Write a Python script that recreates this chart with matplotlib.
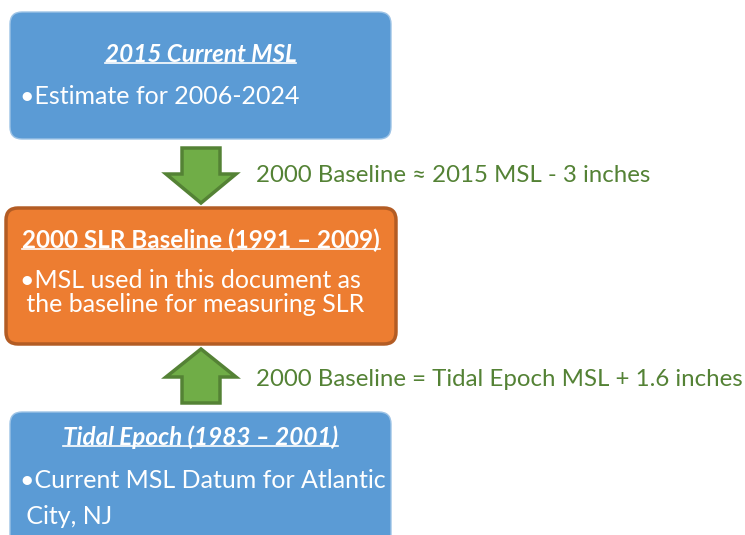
import matplotlib.pyplot as plt
from matplotlib.patches import FancyBboxPatch, Polygon

plt.rcParams['font.family'] = ['Lato', 'DejaVu Sans']

# box contents
titles = ['2015 Current MSL', '2000 SLR Baseline (1991 – 2009)', 'Tidal Epoch (1983 – 2001)']
title_italic = [True, False, True]
bullets = [['•Estimate for 2006-2024'],
           ['•MSL used in this document as', ' the baseline for measuring SLR'],
           ['•Current MSL Datum for Atlantic', ' City, NJ']]
relations = ['2000 Baseline ≈ 2015 MSL - 3 inches',
             '2000 Baseline = Tidal Epoch MSL + 1.6 inches']

# layout (pixels, y downward)
boxes = [(10, 12, 381, 127), (6, 208, 390, 136), (10, 412, 381, 140)]
face = ['#5B9BD5', '#ED7D31', '#5B9BD5']
edge = ['#9DC3E6', '#B35C24', '#9DC3E6']
lw = [1.0, 2.5, 1.0]
title_y = [54, 240, 437]
line_y = [[97], [280, 305], [480, 516]]
text_x = [20, 20, 20]

fig = plt.figure(figsize=(7.45, 5.35), dpi=100)
ax = fig.add_axes([0, 0, 1, 1])
ax.set_xlim(0, 745)
ax.set_ylim(535, 0)
ax.axis('off')

for i, (x, y, w, h) in enumerate(boxes):
    ax.add_patch(FancyBboxPatch((x, y), w, h, boxstyle='round,pad=0,rounding_size=12',
                                facecolor=face[i], edgecolor=edge[i], linewidth=lw[i]))

titles_t = []
for i in range(3):
    cx = boxes[i][0] + boxes[i][2] / 2
    t = ax.text(cx, title_y[i], titles[i], color='white', fontsize=17.5, fontweight='bold',
                style='italic' if title_italic[i] else 'normal', ha='center', va='center')
    titles_t.append(t)
    for txt, yy in zip(bullets[i], line_y[i]):
        ax.text(text_x[i], yy, txt, color='white', fontsize=18, ha='left', va='center')

# arrows
cx = 201
shaft_w, head_w = 38, 70


def arrow(y_tail, y_base, y_tip):
    pts = [(cx - shaft_w / 2, y_tail), (cx + shaft_w / 2, y_tail), (cx + shaft_w / 2, y_base),
           (cx + head_w / 2, y_base), (cx, y_tip), (cx - head_w / 2, y_base),
           (cx - shaft_w / 2, y_base)]
    ax.add_patch(Polygon(pts, closed=True, facecolor='#70AD47', edgecolor='#548235',
                         linewidth=2.5, joinstyle='miter'))


arrow(148, 174, 203)
arrow(403, 377, 349)

ax.text(256, 176, relations[0], color='#548235', fontsize=17.3, ha='left', va='center')
ax.text(256, 380, relations[1], color='#548235', fontsize=17.3, ha='left', va='center')

# underline the titles
fig.canvas.draw()
r = fig.canvas.get_renderer()
inv = ax.transData.inverted()
for t in titles_t:
    bb = t.get_window_extent(r)
    (x0, y0), (x1, y1) = inv.transform([(bb.x0, bb.y0), (bb.x1, bb.y1)])
    ax.plot([x0, x1], [y0 - 3, y0 - 3], color='white', linewidth=1.2)

fig.savefig('out.png', dpi=100)
